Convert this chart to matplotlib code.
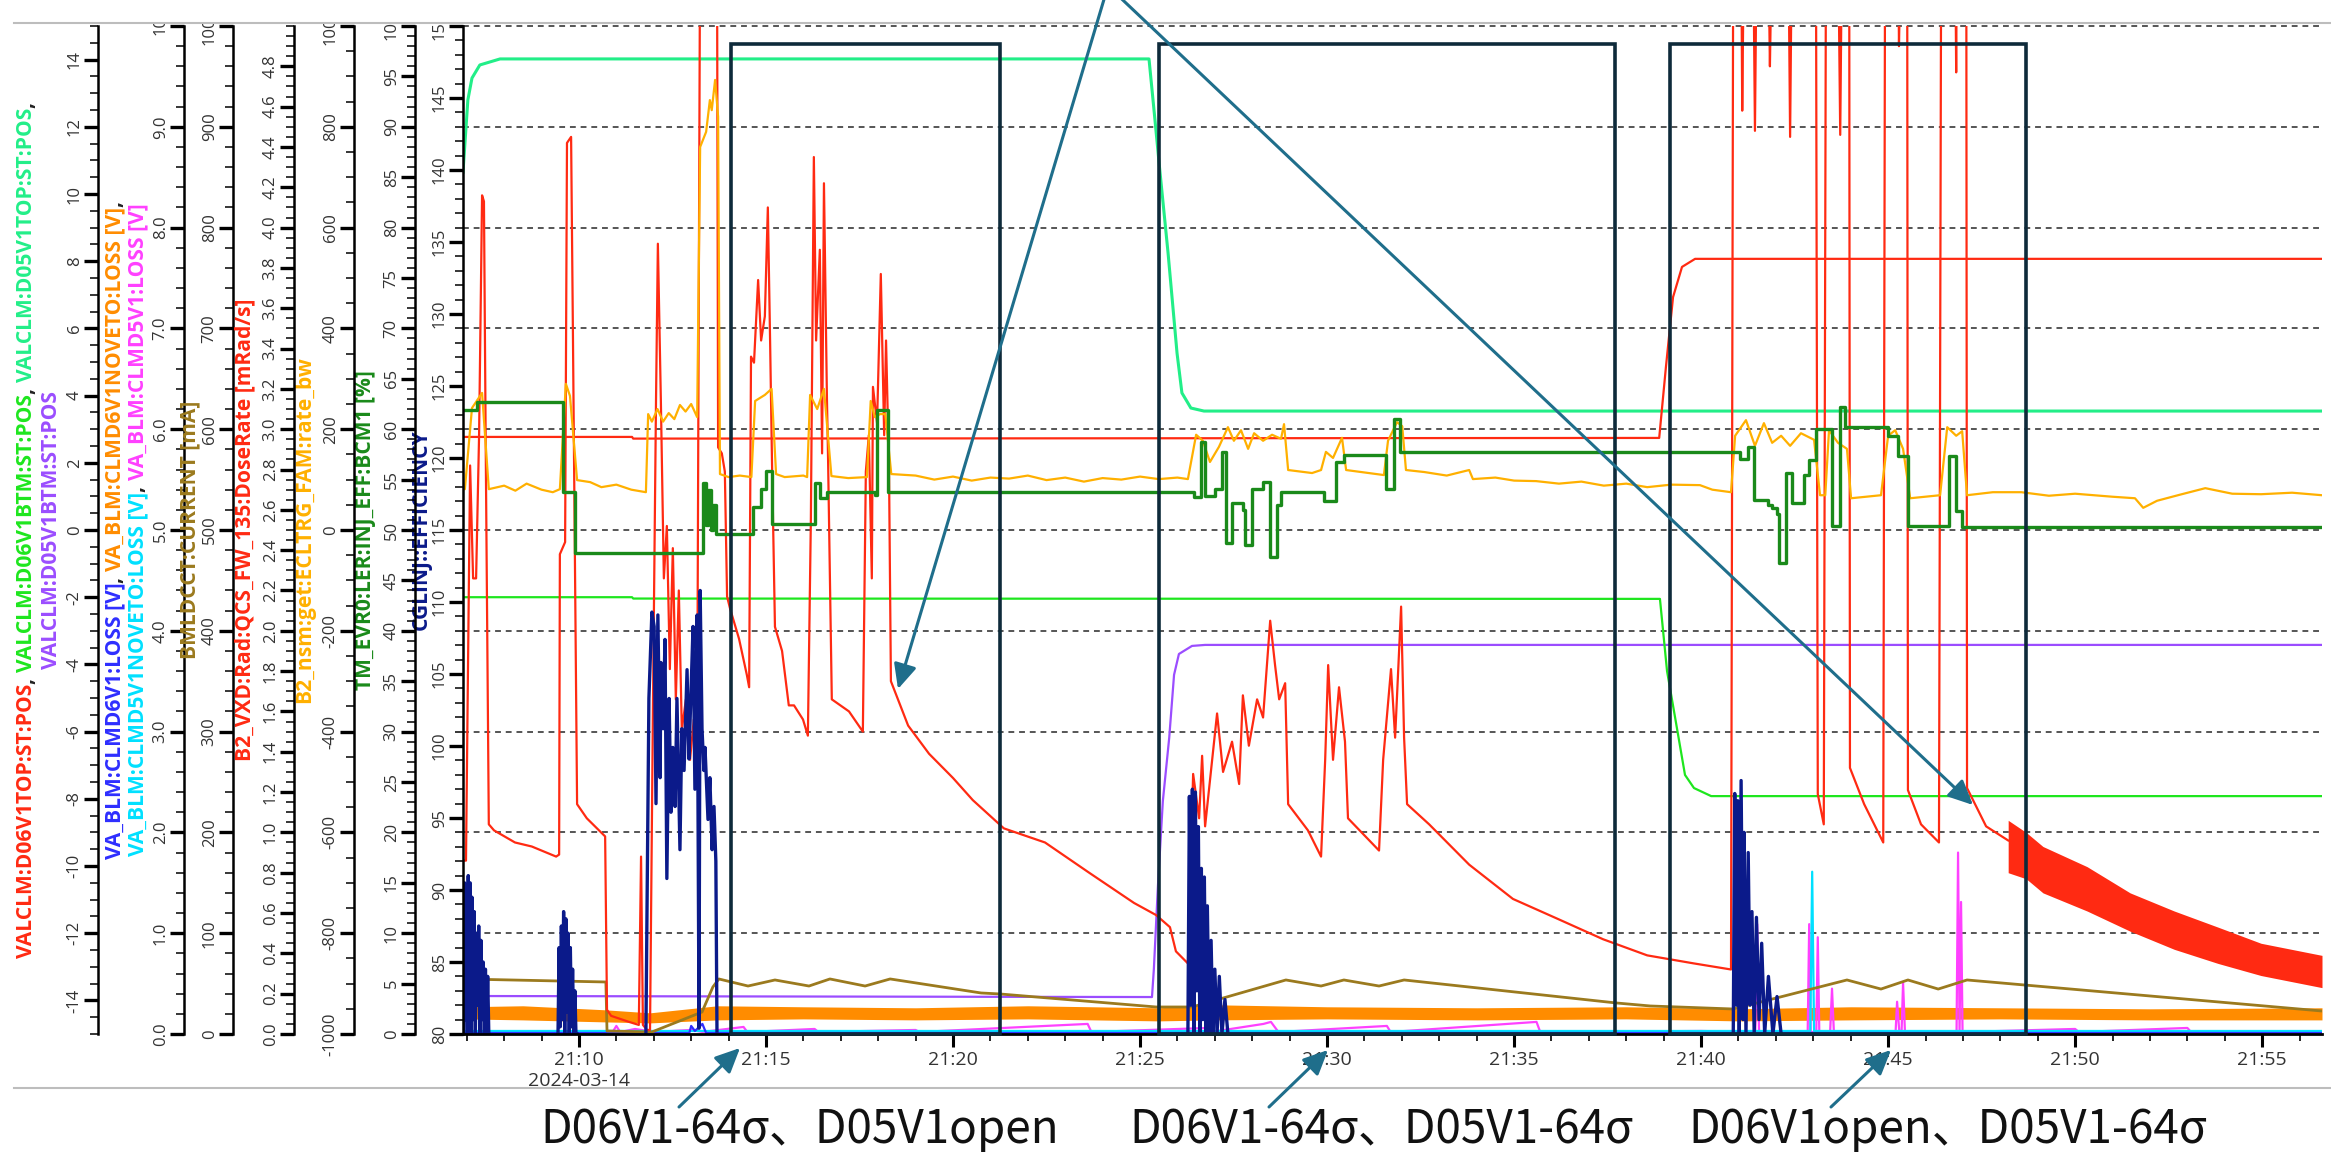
import numpy as np
import matplotlib
matplotlib.use('Agg')
import matplotlib.pyplot as plt
from matplotlib import font_manager as fm
from matplotlib.ticker import MultipleLocator, FixedLocator, FuncFormatter
from matplotlib.patches import Rectangle, FancyArrowPatch
from matplotlib.lines import Line2D


# 太字のあるフォントを探す
def pick_bold():
    for fam in ['Open Sans', 'Noto Sans', 'Lato', 'DejaVu Sans']:
        try:
            p = fm.findfont(fm.FontProperties(family=fam, weight='bold'), fallback_to_default=False)
        except Exception:
            continue
        if 'bold' in p.lower():
            return fam
    return 'DejaVu Sans'


FAM = pick_bold()
plt.rcParams['font.family'] = [FAM, 'DejaVu Sans']

# 時刻は 2024-03-14 21:00 からの経過分
# --- VALCLM コリメータ位置 (-15..15)
d06top_t = [6.90, 11.42, 11.45, 38.88, 39.06, 39.25, 39.49, 39.84, 56.60]
d06top_v = [2.77, 2.77, 2.72, 2.74, 4.85, 6.93, 7.83, 8.07, 8.07]
d06btm_t = [6.90, 11.42, 11.45, 38.90, 39.09, 39.33, 39.57, 39.81, 40.27, 56.60]
d06btm_v = [-2.00, -2.00, -2.04, -2.05, -4.20, -5.74, -7.29, -7.68, -7.92, -7.92]
d05top_t = [6.90, 7.03, 7.14, 7.35, 7.89, 25.24, 25.40, 25.51, 25.75, 25.99, 26.12, 26.36, 26.71, 56.60]
d05top_v = [10.65, 12.8, 13.45, 13.84, 14.02, 14.02, 12.2, 10.92, 8.24, 5.26, 4.08, 3.63, 3.54, 3.54]
d05btm_t = [6.90, 6.98, 7.09, 7.30, 25.32, 25.37, 25.48, 25.61, 25.78, 25.91, 26.04, 26.39, 26.74, 56.60]
d05btm_v = [-11.0, -12.2, -13.75, -13.87, -13.9, -13.07, -10.57, -8.07, -6.19, -4.31, -3.69, -3.45, -3.42, -3.42]

# --- VA_BLM ロス [V] (0..10)
loss6_t = [6.90, 12.95, 13.00, 13.10, 13.30, 13.40, 56.60]
loss6_v = [0.01, 0.01, 0.08, 0.03, 0.10, 0.01, 0.01]
nov6_t = [6.90, 8.5, 10.7, 11.9, 13.7, 16.0, 19.0, 22.0, 25.5, 27.0, 30.0, 34.0, 38.0, 41.0, 44.0, 48.0, 52.0, 56.60]
nov6_lo = [0.15, 0.14, 0.12, 0.11, 0.14, 0.15, 0.14, 0.15, 0.13, 0.14, 0.15, 0.14, 0.15, 0.13, 0.14, 0.15, 0.14, 0.14]
nov6_hi = [0.27, 0.28, 0.24, 0.21, 0.28, 0.27, 0.26, 0.28, 0.26, 0.29, 0.27, 0.26, 0.27, 0.25, 0.27, 0.26, 0.25, 0.26]
nov5_t = [6.90, 42.92, 42.97, 43.02, 56.60]
nov5_v = [0.03, 0.03, 1.61, 0.03, 0.03]
loss5_t = [6.90, 10.9, 11.0, 11.1, 11.5, 12.0, 13.0, 13.3, 14.4, 14.5, 16.3, 16.4, 19.0, 19.1, 23.6, 23.7,
           26.8, 26.9, 28.3, 28.5, 28.7, 31.6, 31.7, 35.6, 35.7, 40.0, 41.45, 41.50, 41.55, 42.85, 42.89,
           42.93, 43.08, 43.12, 43.16, 43.45, 43.50, 43.55, 45.20, 45.24, 45.30, 45.36, 45.40, 45.45,
           46.83, 46.87, 46.91, 46.95, 46.99, 50.0, 50.1, 53.0, 53.1, 56.60]
loss5_v = [0.02, 0.02, 0.08, 0.02, 0.05, 0.02, 0.04, 0.02, 0.07, 0.02, 0.05, 0.02, 0.04, 0.02, 0.10, 0.02,
           0.06, 0.02, 0.10, 0.12, 0.02, 0.08, 0.02, 0.12, 0.02, 0.03, 0.02, 1.09, 0.02, 0.02, 1.09,
           0.02, 0.02, 0.96, 0.02, 0.02, 0.45, 0.02, 0.02, 0.32, 0.02, 0.02, 0.51, 0.02,
           0.02, 1.80, 0.02, 1.31, 0.02, 0.05, 0.02, 0.06, 0.02, 0.02]

# --- BMLDCCT:CURRENT [mA]
cur_t = [6.90, 10.72, 10.75, 11.95, 13.29, 13.58, 13.74, 14.52, 15.24, 16.15, 16.71, 17.65, 18.32, 20.75,
         21.26, 25.43, 26.39, 28.90, 29.84, 30.45, 31.39, 32.06, 37.73, 38.64, 40.86, 43.90, 44.81, 45.53,
         46.34, 47.11, 56.60]
cur_v = [54.6, 51.6, 3.0, 2.0, 21.8, 46.6, 54.6, 47.6, 53.6, 47.6, 54.6, 47.6, 54.6, 40.7,
         39.7, 26.8, 26.8, 53.6, 47.6, 53.6, 47.6, 53.6, 30.8, 27.8, 24.8, 53.6, 44.6, 53.6,
         44.6, 53.6, 22.8]

# --- B2_VXD DoseRate [mRad/s] (0..5)
dose_t = [6.90, 6.98, 7.09, 7.17, 7.25, 7.33, 7.41, 7.46, 7.51, 7.59, 7.73, 8.29, 8.74, 9.39, 9.47, 9.49,
          9.63, 9.68, 9.79, 9.84, 9.95, 10.21, 10.59, 10.70, 10.75, 10.86, 11.34, 11.60, 11.66, 11.71,
          11.82, 11.90, 11.98, 12.06, 12.11, 12.19, 12.27, 12.35, 12.43, 12.51, 12.59, 12.67, 12.75,
          12.86, 12.97, 13.07, 13.16, 13.24, 13.69, 13.72, 13.82, 13.90, 13.96, 14.04, 14.28, 14.49,
          14.55, 14.60, 14.68, 14.79, 14.87, 14.97, 15.05, 15.11, 15.16, 15.24, 15.43, 15.61, 15.75,
          15.99, 16.12, 16.20, 16.28, 16.34, 16.44, 16.50, 16.55, 16.63, 16.66, 16.76, 17.22, 17.59,
          17.67, 17.75, 17.83, 17.86, 17.97, 18.07, 18.16, 18.21, 18.29, 18.34, 18.80, 19.36, 20.00,
          20.53, 21.36, 22.46, 23.64, 24.84, 25.43, 25.80, 25.96, 26.28, 26.42, 26.58, 26.66, 26.74,
          26.93, 27.06, 27.22, 27.46, 27.65, 27.75, 27.91, 28.13, 28.29, 28.48, 28.61, 28.72, 28.88,
          28.96, 29.49, 29.84, 29.95, 30.03, 30.16, 30.32, 30.48, 30.56, 31.18, 31.39, 31.50, 31.71,
          31.82, 31.98, 32.06, 32.14, 32.73, 33.80, 34.97, 36.18, 37.38, 38.56, 39.81, 40.80, 40.86,
          41.07, 41.10, 41.15, 41.39, 41.44, 41.49, 41.79, 41.84, 41.90, 42.33, 42.38, 42.43, 43.07,
          43.12, 43.28, 43.34, 43.66, 43.72, 43.77, 43.96, 43.98, 44.36, 44.87, 44.92, 45.27, 45.29,
          45.35, 45.51, 45.53, 45.88, 46.36, 46.42, 46.79, 46.82, 46.84, 47.09, 47.11, 47.62, 48.21]
dose_v = [0.86, 0.86, 2.82, 2.26, 2.26, 2.97, 4.16, 4.13, 2.85, 1.04, 1.01, 0.95, 0.93, 0.88, 0.89, 2.38,
          2.44, 4.42, 4.45, 3.45, 1.14, 1.07, 1.00, 0.98, 0.12, 0.09, 0.06, 0.045, 0.88, 0.045,
          0.02, 0.02, 1.66, 3.14, 3.92, 3.14, 2.26, 2.52, 1.81, 2.41, 1.66, 2.20, 1.51,
          1.66, 1.36, 1.56, 1.45, 5.5, 5.5, 2.91, 2.88, 2.79, 2.17, 2.11, 1.96, 1.78,
          1.72, 3.36, 3.33, 3.74, 3.44, 3.56, 4.10, 3.44, 2.85, 2.02, 1.90, 1.63, 1.63,
          1.56, 1.48, 2.55, 4.35, 3.44, 3.89, 2.88, 4.22, 3.15, 2.85, 1.66, 1.60, 1.50,
          2.79, 2.97, 2.26, 3.21, 3.03, 3.77, 2.97, 3.44, 2.79, 1.75, 1.53, 1.39, 1.27,
          1.16, 1.02, 0.95, 0.80, 0.65, 0.59, 0.53, 0.41, 0.35, 1.29, 1.07, 1.38, 1.03,
          1.36, 1.59, 1.30, 1.45, 1.24, 1.68, 1.43, 1.66, 1.57, 2.05, 1.83, 1.66, 1.74,
          1.14, 1.01, 0.88, 1.36, 1.83, 1.36, 1.72, 1.45, 1.07, 0.95, 0.91, 1.36, 1.81,
          1.47, 2.12, 1.47, 1.14, 1.04, 0.84, 0.67, 0.57, 0.47, 0.39, 0.35, 0.32, 5.5,
          5.5, 4.58, 5.5, 5.5, 4.48, 5.5, 5.5, 4.80, 5.5, 5.5, 4.45, 5.5, 5.5,
          1.19, 1.04, 5.5, 5.5, 4.46, 5.5, 5.5, 1.32, 1.14, 0.95, 5.5, 5.5, 4.90,
          5.5, 5.5, 1.21, 1.04, 0.95, 5.5, 5.5, 4.77, 5.5, 5.5, 1.22, 1.03, 0.96]
# 最後の細かい振動部分は上下の包絡線
band_t = [48.21, 48.69, 49.14, 50.32, 51.47, 52.65, 53.82, 54.97, 56.60]
band_hi = [1.06, 1.00, 0.93, 0.83, 0.70, 0.61, 0.53, 0.45, 0.39]
band_lo = [0.80, 0.77, 0.70, 0.61, 0.51, 0.42, 0.35, 0.29, 0.23]

# --- B2_nsm rate_bw (-1000..1000)
rate_t = [6.90, 6.95, 7.14, 7.41, 7.59, 8.0, 8.3, 8.6, 9.0, 9.3, 9.49, 9.65, 9.76, 9.95, 10.3, 10.6,
          11.0, 11.4, 11.79, 11.85, 11.95, 12.10, 12.25, 12.40, 12.55, 12.70, 12.85, 13.00, 13.16,
          13.24, 13.40, 13.50, 13.55, 13.64, 13.72, 13.77, 14.0, 14.3, 14.61, 14.71, 14.97, 15.15,
          15.27, 15.5, 16.0, 16.10, 16.18, 16.37, 16.55, 16.75, 17.2, 17.70, 17.80, 17.91, 18.05,
          18.19, 18.35, 19.0, 19.5, 20.0, 20.5, 21.0, 21.5, 22.0, 22.5, 23.0, 23.5, 24.0, 24.5, 25.0,
          25.5, 26.0, 26.28, 26.50, 26.68, 26.87, 27.11, 27.35, 27.51, 27.70, 27.89, 28.05, 28.29,
          28.53, 28.77, 28.85, 28.96, 29.60, 29.84, 29.97, 30.16, 30.40, 30.51, 31.52, 31.63, 31.87,
          32.01, 32.11, 32.6, 33.2, 33.80, 33.90, 34.5, 35.0, 35.59, 36.2, 36.8, 37.4, 38.0, 38.56,
          39.2, 39.97, 40.3, 40.80, 40.91, 41.20, 41.44, 41.68, 41.90, 42.14, 42.38, 42.67, 43.02,
          43.18, 43.32, 43.42, 43.66, 43.90, 44.01, 44.81, 45.00, 45.19, 45.40, 45.59, 46.39, 46.58,
          46.82, 46.98, 47.11, 47.8, 48.56, 49.3, 50.0, 51.0, 51.60, 51.82, 52.19, 52.8, 53.48, 54.2,
          54.97, 55.8, 56.60]
rate_v = [81, 81, 242, 272, 81, 88, 78, 92, 80, 75, 81, 290, 266, 99, 95, 85,
          90, 80, 75, 230, 215, 240, 215, 232, 220, 248, 235, 250, 224,
          760, 790, 853, 833, 893, 820, 111, 105, 108, 105, 256, 268, 280,
          111, 105, 108, 105, 268, 240, 280, 107, 103, 105, 256, 224, 230,
          230, 111, 108, 100, 106, 98, 104, 102, 108, 99, 104, 96, 103, 100, 106,
          101, 104, 101, 189, 177, 135, 165, 204, 177, 198, 161, 192, 177,
          189, 181, 210, 119, 113, 119, 155, 143, 183, 119, 109, 177, 214,
          206, 119, 115, 108, 119, 101, 104, 98, 97, 92, 96, 88, 92, 85,
          90, 89, 80, 75, 187, 218, 167, 212, 173, 187, 167, 192, 179,
          69, 69, 198, 173, 161, 63, 69, 187, 198, 161, 63, 69, 204,
          187, 196, 69, 75, 75, 68, 72, 66, 63, 44, 58, 70, 83, 72,
          71, 74, 69]

# --- TM_EVR0:LER:INJ_EFF:BCM1 [%]
bcm_t = [6.90, 7.27, 9.57, 9.89, 13.32, 13.40, 13.45, 13.52, 13.58, 13.66, 14.65, 14.87, 15.00, 15.16,
         16.31, 16.44, 16.63, 17.91, 17.97, 18.26, 26.44, 26.63, 26.74, 27.01, 27.19, 27.30, 27.46,
         27.75, 27.81, 27.99, 28.29, 28.48, 28.66, 28.77, 29.92, 30.24, 30.45, 31.58, 31.79, 31.95,
         41.04, 41.26, 41.42, 41.79, 41.90, 42.03, 42.09, 42.27, 42.43, 42.75, 42.89, 43.07, 43.50,
         43.72, 43.85, 45.00, 45.27, 45.53, 46.63, 46.82, 46.98, 56.60]
bcm_v = [61.9, 62.7, 53.8, 47.7, 54.7, 50.5, 54.0, 50.0, 52.5, 49.6, 52.3, 54.1, 55.9, 50.6,
         54.7, 53.2, 53.8, 53.5, 61.9, 53.8, 53.3, 58.7, 53.4, 54.1, 57.7, 48.7, 52.7,
         52.0, 48.5, 54.1, 54.8, 47.3, 52.5, 53.8, 52.9, 56.7, 57.4, 54.1, 61.0, 57.7,
         57.0, 58.2, 53.0, 52.5, 52.2, 51.6, 46.7, 55.7, 52.7, 55.5, 56.9, 60.0, 50.4,
         62.2, 60.2, 59.3, 57.3, 50.4, 57.3, 51.9, 50.3, 50.3]

# --- CGLINJ::EFFICIENCY (80..150), 入射時のみ
nan = np.nan
eff_t = [6.92, 6.94, 6.97, 6.99, 7.02, 7.04, 7.07, 7.09, 7.12, 7.14, 7.17, 7.20, 7.23, 7.26, 7.29, 7.32,
         7.35, 7.38, 7.41, 7.44, 7.47, 7.50, 7.53, 7.56, 7.59, nan,
         9.44, 9.47, 9.50, 9.53, 9.56, 9.59, 9.62, 9.65, 9.68, 9.71, 9.74, 9.77, 9.80, 9.83, 9.86, 9.89,
         9.92, 9.95, nan,
         11.79, 11.87, 11.95, 12.01, 12.06, 12.11, 12.17, 12.19, 12.25, 12.30, 12.35, 12.41, 12.46, 12.51,
         12.57, 12.62, 12.70, 12.75, 12.81, 12.89, 12.94, 12.99, 13.05, 13.10, 13.16, 13.21, 13.24, 13.29,
         13.34, 13.37, 13.45, 13.50, 13.56, 13.61, 13.66, 13.69, nan,
         26.28, 26.32, 26.36, 26.40, 26.44, 26.48, 26.52, 26.56, 26.60, 26.64, 26.68, 26.72, 26.76, 26.80,
         26.85, 26.90, 26.95, 27.00, 27.06, 27.12, 27.19, 27.27, 27.35, nan,
         40.86, 40.90, 40.94, 40.98, 41.02, 41.07, 41.12, 41.15, 41.20, 41.26, 41.31, 41.36, 41.42, 41.48,
         41.55, 41.62, 41.70, 41.80, 41.92, 42.03, 42.14]
eff_v = [80, 90.5, 81, 89, 80, 91, 82, 90.5, 80, 89.5, 81, 88.5, 80, 87, 82, 87.5,
         80, 86.5, 81, 85, 80, 84.5, 80, 84, 80, nan,
         80, 86, 80.5, 87.5, 81, 88.5, 80, 88, 81.5, 87, 80, 86, 80.5, 84.5, 80, 83,
         80, 80, nan,
         80, 103.3, 109.3, 108.3, 96.0, 109.1, 97.8, 105.8, 101.2, 107.4, 90.8, 103.3, 95.4, 99.9,
         95.8, 103.3, 92.8, 101.2, 98.3, 105.3, 99.1, 103.3, 108.3, 97.0, 109.1, 80.4, 110.8, 101.2,
         98.3, 99.9, 94.9, 97.8, 92.8, 95.8, 92.0, 80.2, nan,
         80, 96.5, 82, 97.0, 80, 96.8, 83, 94.4, 80, 91.5, 81, 90.9, 80, 88.9,
         80, 86.5, 80, 84.5, 80, 84.0, 80, 82.4, 80, nan,
         80, 96.7, 82, 96.2, 80, 97.6, 81, 94.0, 80, 92.6, 82, 88.5, 80, 88.1,
         81, 86.3, 80, 84.0, 80, 82.6, 80]

# 枠 (開始, 終了) と下の説明
box_spans = [(14.06, 21.26), (25.51, 37.70), (39.17, 48.69)]
notes = ['D06V1-64σ、D05V1open', 'D06V1-64σ、D05V1-64σ', 'D06V1open、D05V1-64σ']

# 色
c_red = '#ff2a12'
c_grn = '#1ee61e'
c_sgrn = '#22ee88'
c_pur = '#9b4dff'
c_blue = '#2e2eff'
c_org = '#ff8c00'
c_cyan = '#00e0ff'
c_mag = '#ff40ff'
c_brn = '#9b7a1e'
c_amb = '#ffb000'
c_dgrn = '#1a8a1a'
c_navy = '#0b1a8a'
c_box = '#0e2a3a'
c_arr = '#1f6e8b'
c_tick = '#333333'

W, H = 2331, 1152
L, R, T, B = 463, 2322, 26, 1034
fig = plt.figure(figsize=(W / 100, H / 100), dpi=100)
rect = [L / W, 1 - B / H, (R - L) / W, (B - T) / H]

ax_g = fig.add_axes(rect)
axs = {}
for k in 'ABCDEF':
    axs[k] = fig.add_axes(rect, sharex=ax_g)
ax_a, ax_b, ax_c, ax_d, ax_e, ax_f = [axs[k] for k in 'ABCDEF']


def setup(ax, spine_x, lo, hi, major, minor, fmt, z, ticks=None):
    ax.set_zorder(z)
    ax.patch.set_visible(False)
    ax.set_ylim(lo, hi)
    for s in ('top', 'right', 'bottom'):
        ax.spines[s].set_visible(False)
    ax.spines['left'].set_position(('axes', (spine_x - L) / (R - L)))
    ax.spines['left'].set_linewidth(1.8)
    ax.yaxis.set_ticks_position('left')
    if ticks is not None:
        ax.yaxis.set_major_locator(FixedLocator(ticks))
    else:
        ax.yaxis.set_major_locator(MultipleLocator(major))
    ax.yaxis.set_minor_locator(MultipleLocator(minor))
    ax.yaxis.set_major_formatter(FuncFormatter(fmt))
    ax.tick_params(axis='y', which='major', direction='out', length=10, width=2.4,
                   labelsize=12, labelcolor=c_tick, labelrotation=90, pad=1)
    ax.tick_params(axis='y', which='minor', direction='out', length=5.5, width=1.1)
    for lb in ax.get_yticklabels():
        lb.set_va('center')
    if ax is not ax_g:
        ax.xaxis.set_visible(False)


setup(ax_a, 98, -15, 15, 2, 0.5, lambda v, p: f'{v:.0f}', 1, ticks=np.arange(-14, 15, 2))
setup(ax_b, 184, 0, 10, 1, 0.2, lambda v, p: '10' if v == 10 else f'{v:.1f}', 2)
setup(ax_c, 233, 0, 1000, 100, 20, lambda v, p: f'{v:.0f}', 3)
setup(ax_d, 294, 0, 5, 0.2, 0.05, lambda v, p: f'{v:.1f}', 4, ticks=np.arange(0, 4.81, 0.2))
setup(ax_e, 354, -1000, 1000, 200, 50, lambda v, p: f'{v:.0f}', 5)
setup(ax_f, 415, 0, 100, 5, 1, lambda v, p: f'{v:.0f}', 6)
setup(ax_g, 463, 80, 150, 5, 1, lambda v, p: f'{v:.0f}', 7)

# x 軸
ax_g.set_xlim(6.90, 56.60)
ax_g.spines['bottom'].set_visible(True)
ax_g.spines['bottom'].set_linewidth(2)
ax_g.xaxis.set_major_locator(MultipleLocator(5))
ax_g.xaxis.set_minor_locator(MultipleLocator(1))
ax_g.xaxis.set_major_formatter(FuncFormatter(
    lambda v, p: '21:10\n2024-03-14' if round(v) == 10 else f'21:{int(round(v)):02d}'))
ax_g.tick_params(axis='x', which='major', direction='out', length=9.5, width=2.2,
                 labelsize=14, labelcolor=c_tick, pad=3)
ax_g.tick_params(axis='x', which='minor', direction='out', length=5, width=1.2)

# 破線グリッド
ax_a.hlines(np.linspace(0.1, 1.0, 10), 0, 1, transform=ax_a.transAxes, colors='#555555',
            linestyles=(0, (3, 2.5)), linewidth=1.4, clip_on=False, zorder=0)

lw = 1.6
ax_a.plot(d05btm_t, d05btm_v, color=c_pur, lw=lw)
ax_a.plot(d05top_t, d05top_v, color=c_sgrn, lw=lw + 0.6)
ax_a.plot(d06btm_t, d06btm_v, color=c_grn, lw=lw)
ax_a.plot(d06top_t, d06top_v, color=c_red, lw=lw)

ax_b.fill_between(nov6_t, nov6_lo, nov6_hi, color=c_org, lw=0)
ax_b.plot(loss5_t, loss5_v, color=c_mag, lw=lw)
ax_b.plot(nov5_t, nov5_v, color=c_cyan, lw=lw)
ax_b.plot(loss6_t, loss6_v, color=c_blue, lw=lw)

ax_c.plot(cur_t, cur_v, color=c_brn, lw=lw + 0.4)

ax_d.plot(dose_t, dose_v, color=c_red, lw=lw)
ax_d.fill_between(band_t, band_lo, band_hi, color=c_red, lw=0)

ax_e.plot(rate_t, rate_v, color=c_amb, lw=lw)

ax_f.plot(bcm_t, bcm_v, color=c_dgrn, lw=lw + 0.8, drawstyle='steps-post')

ax_g.plot(eff_t, eff_v, color=c_navy, lw=2.4)

top_y = 80 + (B - 44) / (B - T) * 70
for x0, x1 in box_spans:
    ax_g.add_patch(Rectangle((x0, 80), x1 - x0, top_y - 80, fill=False, edgecolor=c_box,
                             lw=2.6, clip_on=False, zorder=8))

rend = fig.canvas.get_renderer()


def text_w(s, size):
    t = fig.text(0, 0, s + '|', fontsize=size, fontweight='bold')
    e = t.get_window_extent(rend).width
    t.remove()
    return e


# 一番長いラベル行が約 852px になる大きさ
line_a1 = [('VALCLM:D06V1TOP:ST:POS', c_red), (', ', '#222222'), ('VALCLM:D06V1BTM:ST:POS', c_grn),
           (', ', '#222222'), ('VALCLM:D05V1TOP:ST:POS', c_sgrn), (',', '#222222')]
full_a1 = ''.join(p[0] for p in line_a1)
LBL = 10 * 852 / (text_w(full_a1, 10) - text_w('', 10))


def colored_label(x_img, parts, size=LBL):
    bar = text_w('', size)
    full = ''.join(p[0] for p in parts)
    y0 = (H - 530) - (text_w(full, size) - bar) / 2
    done = ''
    for s, c in parts:
        off = (text_w(done, size) - bar) if done else 0
        fig.text(x_img / W, (y0 + off) / H, s, rotation=90, ha='center', va='bottom',
                 fontsize=size, fontweight='bold', color=c)
        done += s


k = '#222222'
colored_label(27, line_a1)
colored_label(52, [('VALCLM:D05V1BTM:ST:POS', c_pur)])
colored_label(115, [('VA_BLM:CLMD6V1:LOSS [V]', c_blue), (', ', k),
                    ('VA_BLM:CLMD6V1NOVETO:LOSS [V]', c_org), (',', k)])
colored_label(138, [('VA_BLM:CLMD5V1NOVETO:LOSS [V]', c_cyan), (', ', k),
                    ('VA_BLM:CLMD5V1:LOSS [V]', c_mag)])
colored_label(190, [('BMLDCCT:CURRENT [mA]', c_brn)])
colored_label(245, [('B2_VXD:Rad:QCS_FW_135:DoseRate [mRad/s]', c_red)])
colored_label(305, [('B2_nsm:get:ECLTRG_FAM:rate_bw', c_amb)])
colored_label(366, [('TM_EVR0:LER:INJ_EFF:BCM1 [%]', c_dgrn)])
colored_label(421, [('CGLINJ::EFFICIENCY', c_navy)])

# 画面上端の切れ目と区切り線
fig.add_artist(Rectangle((0, 1 - 22 / H), 1, 22 / H, transform=fig.transFigure,
                         facecolor='white', edgecolor='none', zorder=20))
for yy in (23, 1088):
    fig.add_artist(Line2D([14 / W, 1], [1 - yy / H] * 2, transform=fig.transFigure,
                          color='#bdbdbd', lw=1.5, zorder=21))


def fpt(x, y):
    return (x / W, 1 - y / H)


arrows = [((1108, -14), (898, 689)), ((1108, -14), (1973, 805)),
          ((679, 1107), (740, 1048)), ((1269, 1107), (1328, 1050)), ((1831, 1107), (1891, 1050))]
for a, b in arrows:
    fig.add_artist(FancyArrowPatch(fpt(*a), fpt(*b), transform=fig.transFigure,
                                   arrowstyle='-|>,head_length=0.75,head_width=0.35',
                                   mutation_scale=20, lw=2.2, color=c_arr,
                                   shrinkA=0, shrinkB=0, zorder=22))

for cx, s in zip([800, 1381, 1948], notes):
    fig.text(cx / W, 1 - 1143 / H, s, ha='center', va='baseline', fontsize=33,
             family=['Noto Sans CJK JP', 'DejaVu Sans'], color='#111111')

fig.savefig('out.png', dpi=100, facecolor='white')
